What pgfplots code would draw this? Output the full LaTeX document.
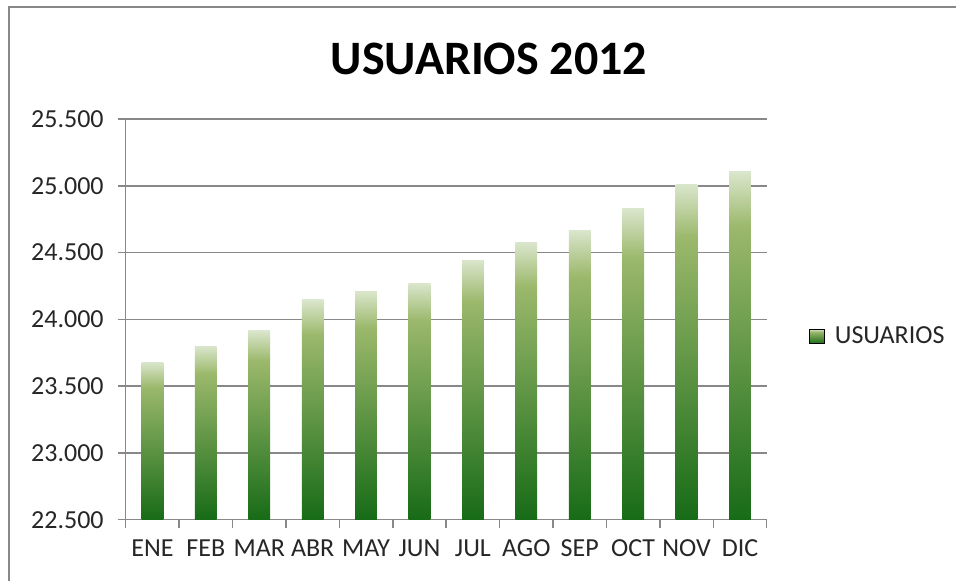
\documentclass[border=0pt]{standalone}
\usepackage{fontspec}
\setmainfont{Carlito}
\usepackage{pgfplots}
\pgfplotsset{compat=1.18}

\definecolor{gdark}{HTML}{176B17}
\definecolor{gmid}{HTML}{9BB86B}
\definecolor{glight}{HTML}{DAE6CC}
\definecolor{axgray}{HTML}{888888}
\pgfdeclareverticalshading{usr}{100bp}{color(0bp)=(gdark); color(25bp)=(gdark); color(67bp)=(gmid); color(75bp)=(glight); color(100bp)=(glight)}

\pgfplotsset{bar/.style={ybar, bar width=10.85pt, bar shift=0pt, draw=none, shade, shading=usr, forget plot}}

\begin{document}
\begin{tikzpicture}
\useasboundingbox (0,0) rectangle (478pt,290pt);
\draw[axgray, line width=0.8pt] (4.5pt,-10pt) rectangle (490pt,286.5pt);
\begin{axis}[
  at={(62.85pt,30.15pt)}, anchor=south west,
  scale only axis, width=320.5pt, height=200.35pt,
  xmin=-0.5, xmax=11.5, ymin=22500, ymax=25500,
  ytick={22500,23000,...,25500},
  xtick={0,...,11},
  xticklabels={ENE,FEB,MAR,ABR,MAY,JUN,JUL,AGO,SEP,OCT,NOV,DIC},
  minor xtick={-0.5,0.5,...,11.5},
  axis x line*=bottom, axis y line*=left,
  axis line style={axgray, line width=0.75pt, -},
  tick align=outside, major tick length=4pt, minor tick length=4pt,
  tick style={axgray, line width=0.75pt},
  major x tick style={draw=none},
  ymajorgrids, grid style={axgray, line width=0.75pt},
  scaled y ticks=false,
  ticklabel style={font=\fontsize{13pt}{15pt}\selectfont, text=black!85},
  y tick label style={xshift=-3.5pt, /pgf/number format/.cd, 1000 sep={.}, assume math mode=true},
  x tick label style={yshift=-2.5pt},
  legend style={at={(rel axis cs:1.066,0.457)}, anchor=west, draw=none, fill=none,
    inner sep=0pt, font=\fontsize{13pt}{15pt}\selectfont, text=black!85},
]
\addplot[bar] coordinates {(0,23680)};
\addplot[bar] coordinates {(1,23800)};
\addplot[bar] coordinates {(2,23915)};
\addplot[bar] coordinates {(3,24145)};
\addplot[bar] coordinates {(4,24212)};
\addplot[bar] coordinates {(5,24272)};
\addplot[bar] coordinates {(6,24444)};
\addplot[bar] coordinates {(7,24577)};
\addplot[bar] coordinates {(8,24667)};
\addplot[bar] coordinates {(9,24828)};
\addplot[bar] coordinates {(10,25013)};
\addplot[bar] coordinates {(11,25105)};
\addlegendimage{legend image code/.code={\shade[shading=usr] (0pt,-3.6pt) rectangle (7.5pt,3.6pt); \path[draw=none] (0pt,0pt) -- (10.5pt,0pt);}}
\addlegendentry{USUARIOS}
\end{axis}
\node[anchor=base, font=\fontsize{24pt}{28pt}\selectfont\bfseries] at (244.5pt,253pt) {USUARIOS 2012};
\end{tikzpicture}
\end{document}
